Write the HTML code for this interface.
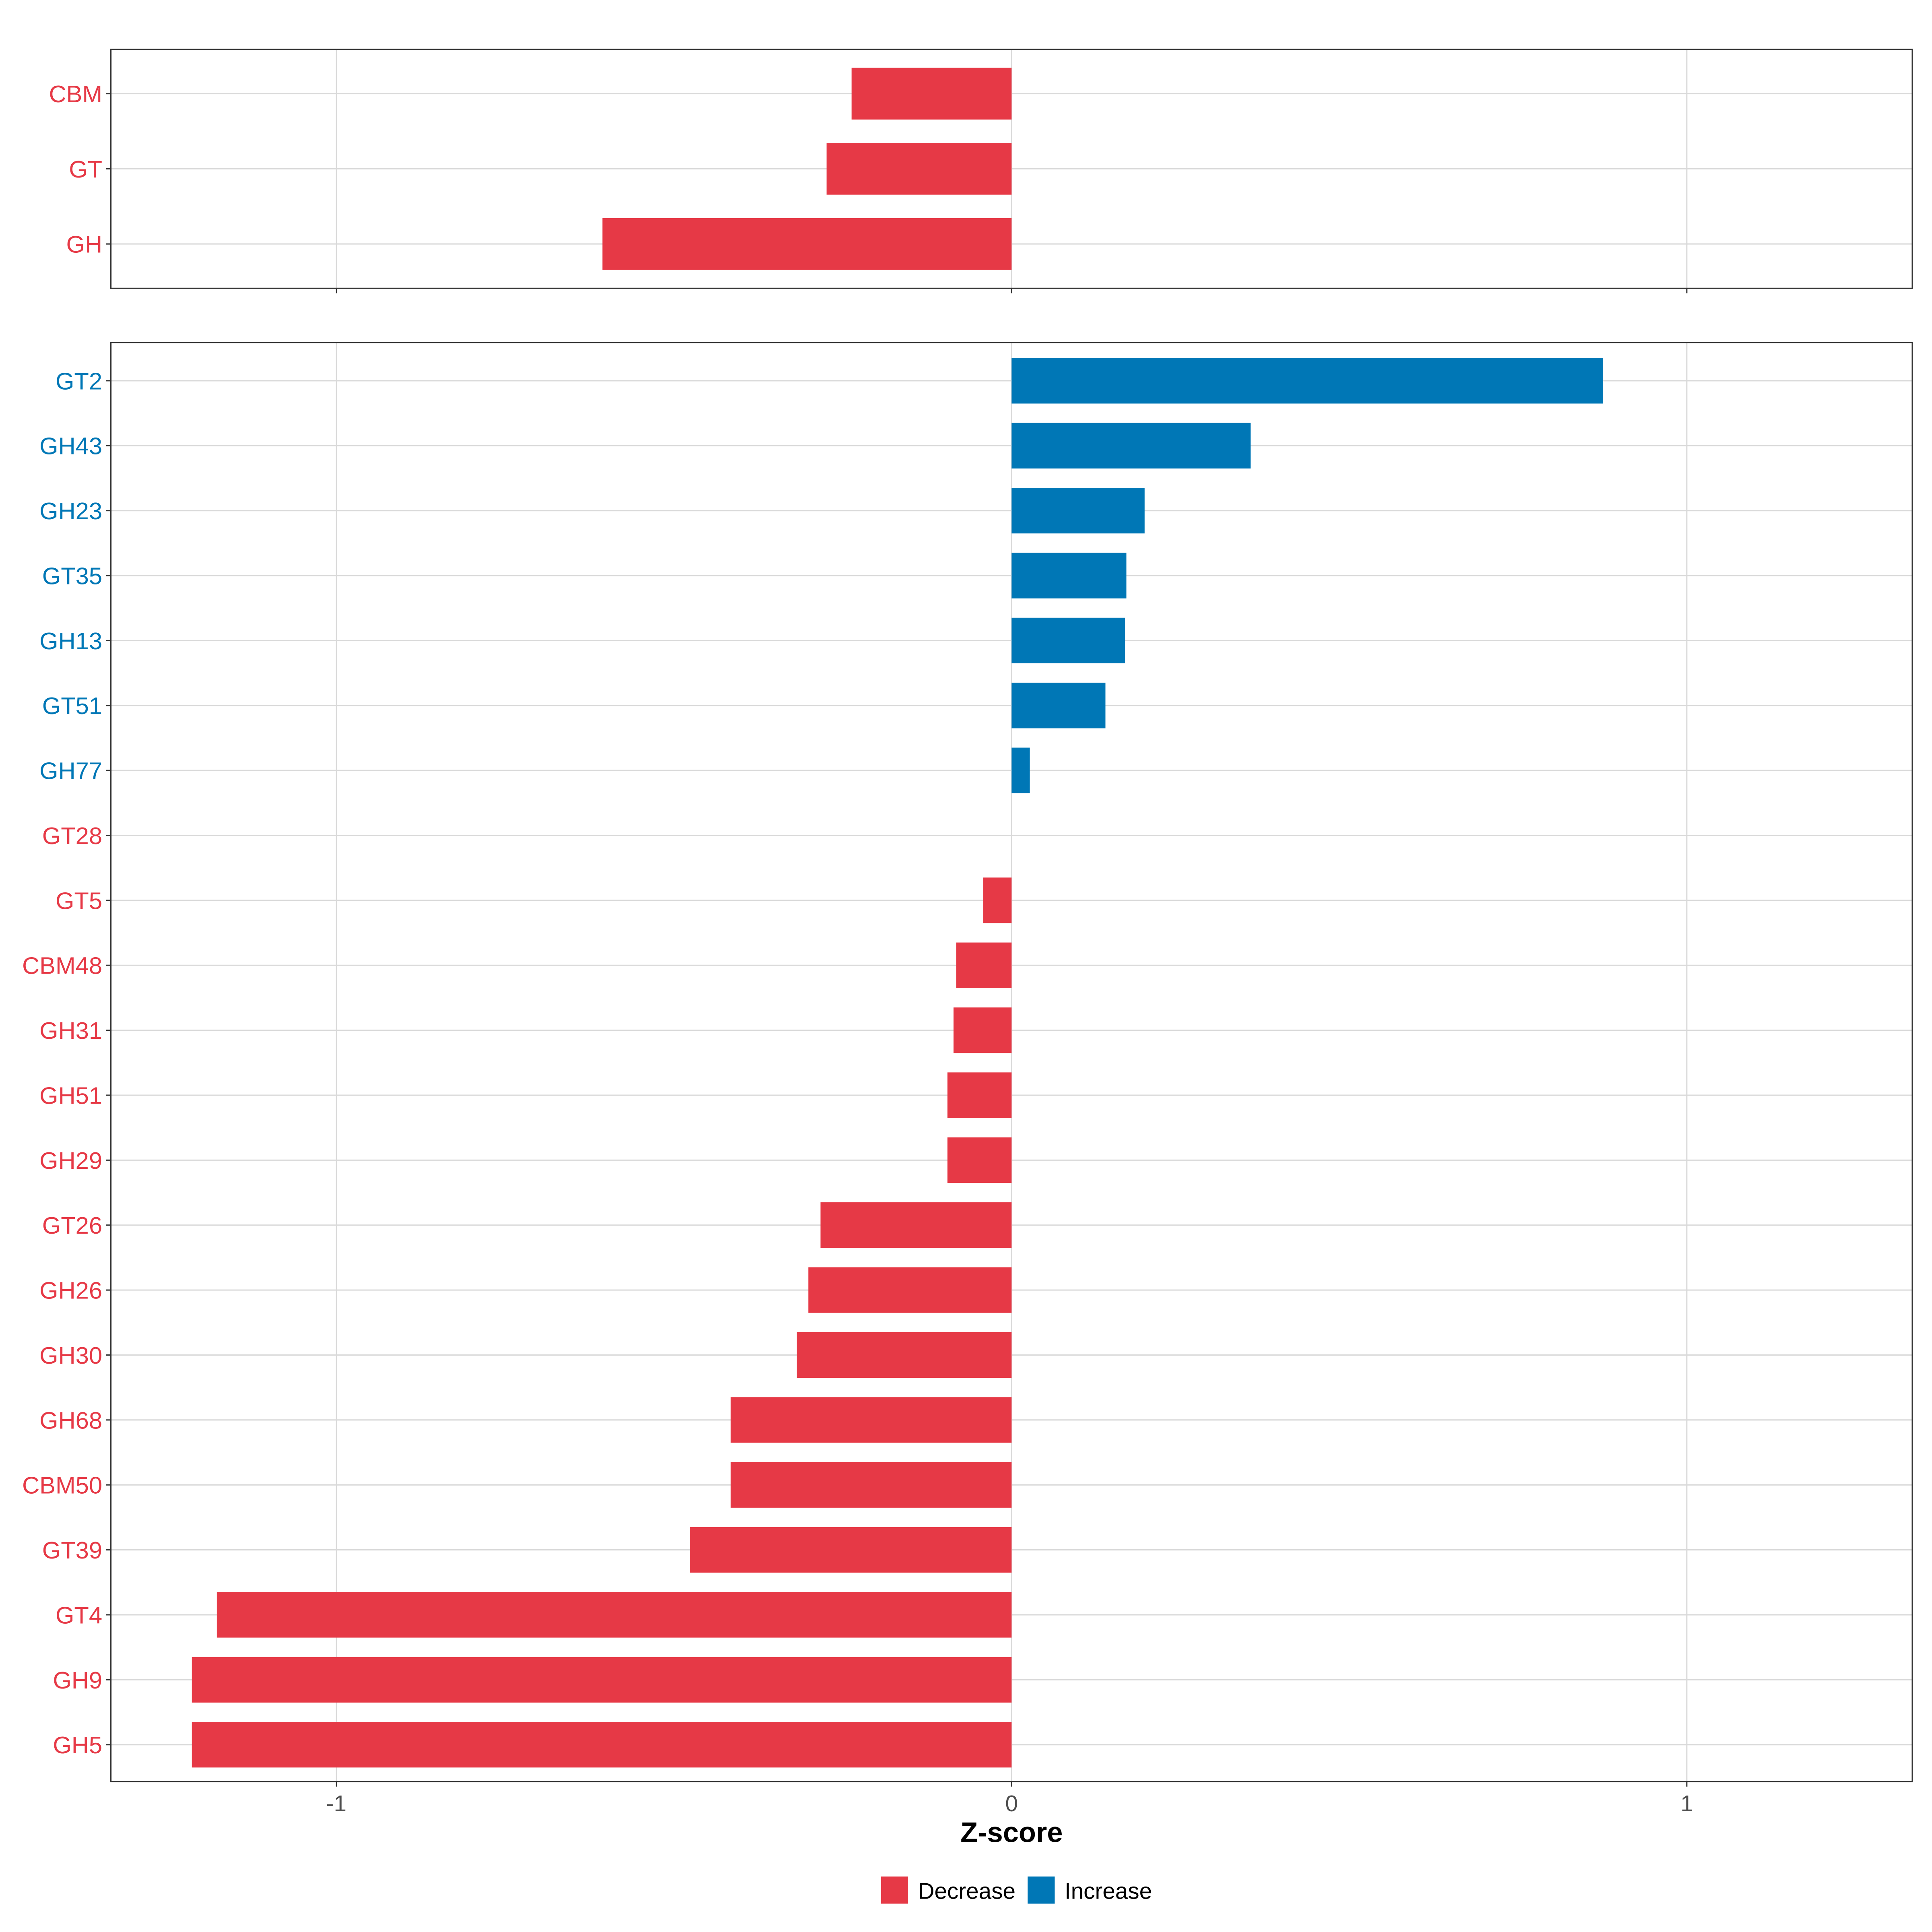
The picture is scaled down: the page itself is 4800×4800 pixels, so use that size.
<!DOCTYPE html>
<html><head><meta charset="utf-8"><style>
html,body{margin:0;padding:0;background:#fff}
svg{display:block}
text{font-family:"Liberation Sans",Arial,sans-serif}
</style></head><body>
<svg id="chart" xmlns="http://www.w3.org/2000/svg" width="4800" height="4800" viewBox="0 0 1568 1568">
<rect width="1568" height="1568" fill="#fff"/>
<g id="top"></g>
<g id="bottom"></g>
<text x="821" y="1495" text-anchor="middle" font-size="23" font-weight="bold">Z-score</text>
<g>
<rect x="715" y="1523" width="22" height="22" fill="#E63946"/>
<text x="745" y="1541" font-size="18.5">Decrease</text>
<rect x="834" y="1523" width="22" height="22" fill="#0077B6"/>
<text x="864" y="1541" font-size="18.5">Increase</text>
</g>
</svg>
<script>
const topCats = ["CBM","GT","GH"];
const topVals = [-0.237,-0.274,-0.606];
const botCats = ["GT2","GH43","GH23","GT35","GH13","GT51","GH77","GT28","GT5","CBM48","GH31","GH51","GH29","GT26","GH26","GH30","GH68","CBM50","GT39","GT4","GH9","GH5"];
const botVals = [0.876,0.354,0.197,0.170,0.168,0.139,0.027,0,-0.042,-0.082,-0.086,-0.095,-0.095,-0.283,-0.301,-0.318,-0.416,-0.416,-0.476,-1.177,-1.214,-1.214];
const xTicks = [-1,0,1];
const xTickLabels = ["-1","0","1"];

const NS="http://www.w3.org/2000/svg";
const X0=90,X1=1552;
function xs(v){return 821+v*548;}
function mk(parent,tag,attrs){const e=document.createElementNS(NS,tag);for(const k in attrs)e.setAttribute(k,attrs[k]);parent.appendChild(e);return e;}

function panel(g,cats,vals,y0,y1,first,step,barH,showX){
  const ys=i=>first+i*step;
  xTicks.forEach(t=>{const l=mk(g,'line',{x1:xs(t),x2:xs(t),y1:y0,y2:y1,stroke:'#d9d9d9','stroke-width':1});
    
    });
  cats.forEach((c,i)=>{const l=mk(g,'line',{x1:X0,x2:X1,y1:ys(i),y2:ys(i),stroke:'#d9d9d9','stroke-width':1});
    
    });
  cats.forEach((c,i)=>{
    const v=vals[i];const col=v>0?'#0077B6':'#E63946';
    if(v!==0){const r=mk(g,'rect',{x:Math.min(xs(v),xs(0)),y:ys(i)-barH/2,width:Math.abs(xs(v)-xs(0)),height:barH,fill:col});
      
      }
    const tk=mk(g,'line',{x1:X0-4,x2:X0,y1:ys(i),y2:ys(i),stroke:'#333','stroke-width':1});
    
    
    const t=mk(g,'text',{x:X0-7,y:ys(i)+7,'text-anchor':'end','font-size':19.5,fill:col});
    t.textContent=c;
    
    
  });
  const b=mk(g,'rect',{x:X0,y:y0,width:X1-X0,height:y1-y0,fill:'none',stroke:'#333','stroke-width':1});
  
  
  xTicks.forEach((t,i)=>{const l=mk(g,'line',{x1:xs(t),x2:xs(t),y1:y1,y2:y1+4,stroke:'#333','stroke-width':1});
    
    
    if(showX){const tx=mk(g,'text',{x:xs(t),y:y1+24,'text-anchor':'middle','font-size':18.5,fill:'#4d4d4d'});
      tx.textContent=xTickLabels[i];
      
      }
  });
}
panel(document.getElementById('top'),topCats,topVals,40,234,76,61,42,false);
panel(document.getElementById('bottom'),botCats,botVals,278,1446,309,(1416-309)/21,37,true);
</script>
</body></html>
